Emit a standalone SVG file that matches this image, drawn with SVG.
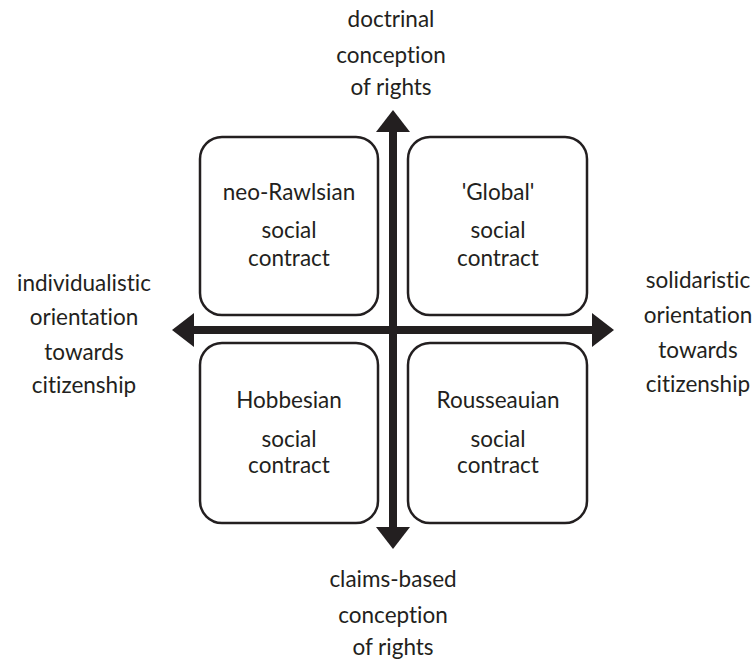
<svg xmlns="http://www.w3.org/2000/svg" width="755" height="664" viewBox="0 0 755 664">
<style>
text{font-family:Lato,"Open Sans","Liberation Sans",sans-serif;font-size:22.5px;fill:#231f20;text-anchor:middle;font-variant-ligatures:none;font-feature-settings:"liga" 0,"clig" 0,"dlig" 0}
.box{fill:#fff;stroke:#231f20;stroke-width:2.5}
.axis{stroke:#231f20;stroke-width:8;fill:none}
.head{fill:#231f20}
</style>
<rect width="755" height="664" fill="#fff"/>
<g id="connectors">
<line class="axis" x1="393" y1="128" x2="393" y2="532"/>
<line class="axis" x1="190" y1="330" x2="596" y2="330"/>
<polygon class="head" points="393,110 410,132 376,132"/>
<polygon class="head" points="393,549 410,527 376,527"/>
<polygon class="head" points="172,330 194,313 194,347"/>
<polygon class="head" points="614,330 592,313 592,347"/>
</g>
<g id="neo-rawlsian">
<rect class="box" x="200" y="137" width="178" height="178" rx="22"/>
<text x="289" y="200">neo-Rawlsian</text>
<text x="289" y="238">social</text>
<text x="289" y="266">contract</text>
</g>
<g id="global">
<rect class="box" x="408" y="137" width="179" height="178" rx="22"/>
<text x="498" y="200">'Global'</text>
<text x="498" y="238">social</text>
<text x="498" y="266">contract</text>
</g>
<g id="hobbesian">
<rect class="box" x="200" y="343" width="178" height="180" rx="22"/>
<text x="289" y="408">Hobbesian</text>
<text x="289" y="447">social</text>
<text x="289" y="473">contract</text>
</g>
<g id="rousseauian">
<rect class="box" x="408" y="343" width="179" height="180" rx="22"/>
<text x="498" y="408">Rousseauian</text>
<text x="498" y="447">social</text>
<text x="498" y="473">contract</text>
</g>
<g id="label-top">
<text x="391" y="27">doctrinal</text>
<text x="391" y="63">conception</text>
<text x="391" y="95">of rights</text>
</g>
<g id="label-bottom">
<text x="393" y="587">claims-based</text>
<text x="393" y="623">conception</text>
<text x="393" y="655">of rights</text>
</g>
<g id="label-left">
<text x="84" y="291">individualistic</text>
<text x="84" y="325">orientation</text>
<text x="84" y="360">towards</text>
<text x="84" y="393">citizenship</text>
</g>
<g id="label-right">
<text x="698" y="288">solidaristic</text>
<text x="698" y="323">orientation</text>
<text x="698" y="358">towards</text>
<text x="698" y="392">citizenship</text>
</g>
</svg>
